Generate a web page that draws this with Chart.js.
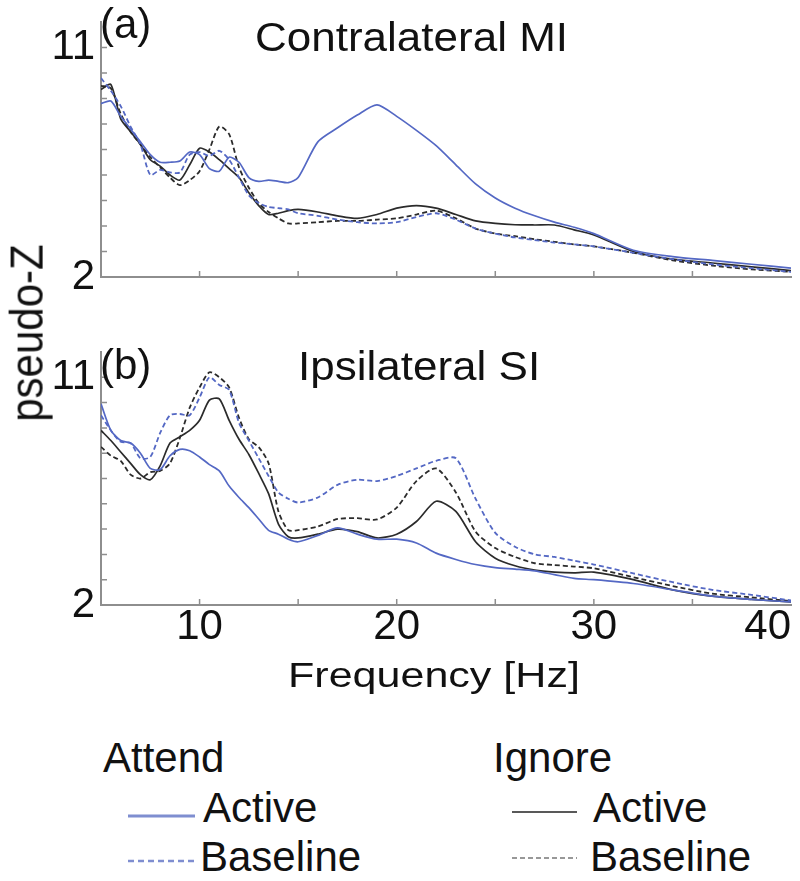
<!DOCTYPE html>
<html>
<head>
<meta charset="utf-8">
<script src="https://cdn.jsdelivr.net/npm/chart.js@4.4.1/dist/chart.umd.min.js"></script>
<style>
  body { margin: 0; background: #fff; }
  #wrap { position: relative; width: 800px; height: 881px; overflow: hidden;
          font-family: "Liberation Sans", Arial, sans-serif; color: #111; }
  canvas { position: absolute; left: 0; }
  .txt { position: absolute; white-space: nowrap; line-height: 1; transform-origin: 0 0; }
</style>
</head>
<body>
<div id="wrap">
  <canvas id="chartA" width="800" height="290" style="top:0"></canvas>
  <canvas id="chartB" width="800" height="370" style="top:290px"></canvas>

  <div class="txt" style="left:100px;top:3px;font-size:42px">(a)</div>
  <div class="txt" style="left:255px;top:17px;font-size:40px;transform:scaleX(1.1)">Contralateral MI</div>
  <div class="txt" style="left:100px;top:344px;font-size:42px">(b)</div>
  <div class="txt" style="left:298px;top:346px;font-size:40px;transform:scaleX(1.1)">Ipsilateral SI</div>
  <div class="txt" style="left:27px;top:333px;font-size:42px;transform-origin:50% 50%;transform:translate(-50%,-50%) rotate(-90deg) scaleY(1.1)">pseudo-Z</div>
  <div class="txt" style="left:288px;top:657px;font-size:35px;transform:scaleX(1.23)">Frequency [Hz]</div>

  <div class="txt" style="left:103px;top:737px;font-size:42px">Attend</div>
  <div class="txt" style="left:493px;top:737px;font-size:42px">Ignore</div>
  <div class="txt" style="left:203px;top:787px;font-size:42px">Active</div>
  <div class="txt" style="left:200px;top:836px;font-size:42px">Baseline</div>
  <div class="txt" style="left:593px;top:787px;font-size:42px">Active</div>
  <div class="txt" style="left:590px;top:836px;font-size:42px">Baseline</div>
  <svg width="800" height="881" style="position:absolute;left:0;top:0;pointer-events:none">
    <line x1="128" y1="816" x2="195" y2="816" stroke="#7f8ed0" stroke-width="3"/>
    <line x1="128" y1="861" x2="195" y2="861" stroke="#7f8ed0" stroke-width="2.5" stroke-dasharray="6,4"/>
    <line x1="512" y1="812" x2="577" y2="812" stroke="#222" stroke-width="1.5"/>
    <line x1="512" y1="858" x2="577" y2="858" stroke="#333" stroke-width="1.2" stroke-dasharray="5,3"/>
  </svg>
</div>

<script>
// frequency grid [Hz]
const freq = [5,5.5,6,6.5,7,7.5,8,8.5,9,9.5,10,10.5,11,11.5,12,12.5,13,13.5,14,14.5,15,
              16,17,18,19,20,21,22,23,24,25,26,27,28,29,30,32,34,36,38,40];

// (a) Contralateral MI
const attendActiveA = [8.8,8.9,8.3,7.8,7.3,6.8,6.5,6.5,6.55,6.9,6.8,6.25,6.15,6.7,6.5,5.9,5.75,5.8,5.75,5.7,5.9,
                       7.3,7.85,8.35,8.75,8.3,7.75,7.15,6.4,5.65,5.1,4.7,4.4,4.15,3.95,3.7,3.05,2.8,2.65,2.5,2.35];
const attendBaseA   = [9.8,9.3,8.7,7.9,7.2,6.0,6.2,6.1,6.1,6.8,6.9,6.75,6.95,6.6,5.9,5.2,4.9,4.75,4.7,4.65,4.5,
                       4.4,4.25,4.15,4.1,4.15,4.35,4.5,4.25,3.9,3.7,3.55,3.45,3.35,3.28,3.2,2.95,2.7,2.5,2.35,2.2];
const ignoreActiveA = [9.35,9.55,8.2,7.7,7.2,6.6,6.35,6.0,5.8,6.4,7.05,6.9,6.6,6.25,5.9,5.3,4.8,4.45,4.5,4.6,4.65,
                       4.55,4.4,4.3,4.45,4.7,4.8,4.7,4.45,4.2,4.1,4.05,4.04,4.04,3.85,3.65,3.0,2.7,2.55,2.4,2.25];
const ignoreBaseA   = [9.5,9.4,8.4,7.7,7.2,6.7,6.3,5.9,5.6,5.8,6.15,7.0,7.9,7.6,6.3,5.5,4.9,4.55,4.3,4.1,4.1,
                       4.15,4.2,4.2,4.25,4.3,4.45,4.6,4.3,3.9,3.7,3.6,3.48,3.38,3.28,3.2,2.95,2.65,2.45,2.3,2.2];

// (b) Ipsilateral SI
const attendActiveB = [9.95,8.9,8.5,8.4,8.0,7.4,7.35,7.9,8.15,8.1,7.85,7.55,7.3,6.7,6.25,5.85,5.4,4.95,4.8,4.6,4.5,
                       4.75,5.05,4.8,4.6,4.6,4.45,4.05,3.8,3.6,3.48,3.42,3.35,3.2,3.05,3.0,2.85,2.6,2.35,2.22,2.12];
const attendBaseB   = [9.5,8.9,8.45,8.4,7.8,7.85,8.8,9.5,9.55,9.5,10.2,11.0,10.7,10.5,9.2,8.5,7.8,7.1,6.45,6.2,6.05,
                       6.25,6.75,6.95,6.9,7.1,7.4,7.7,7.8,6.2,4.85,4.3,4.0,3.9,3.75,3.6,3.25,2.9,2.6,2.4,2.18];
const ignoreActiveB = [8.9,8.5,8.05,7.6,7.15,6.95,7.5,8.4,8.65,8.9,9.3,10.1,10.15,9.3,8.55,7.95,7.2,6.4,5.2,4.7,4.65,
                       4.8,5.0,4.9,4.65,4.8,5.3,6.1,5.7,4.5,3.85,3.55,3.38,3.3,3.27,3.3,3.0,2.6,2.35,2.22,2.12];
const ignoreBaseB   = [8.25,7.9,7.7,7.15,7.0,7.25,7.3,7.6,8.6,9.8,10.6,11.2,11.0,10.6,9.4,8.55,8.24,7.6,5.7,4.96,4.96,
                       5.1,5.4,5.43,5.38,5.85,6.9,7.4,6.45,4.9,4.25,3.9,3.65,3.58,3.52,3.45,3.1,2.75,2.45,2.3,2.15];

const xTicks = [5,10,15,20,25,30,35,40];
const xLabels = [10,20,30,40];
const yTicks = [2,3,4,5,6,7,8,9,10,11,12];
const yLabels = [2,11];

const blue = '#5468c4';
const black = '#2b2b2b';
const axisGrey = '#8e8e8e';
const font = { family: 'Liberation Sans, Arial, sans-serif', size: 42 };

function series(values, color, dashed) {
  return {
    data: freq.map((f, i) => ({ x: f, y: values[i] })),
    borderColor: color,
    borderWidth: dashed ? 1.8 : 1.7,
    borderDash: dashed ? [5, 3] : [],
    pointRadius: 0,
    fill: false,
    tension: 0.25
  };
}

// small tick marks pointing into the plot, like the original
const innerTicks = {
  id: 'innerTicks',
  afterDraw(chart) {
    const { ctx, chartArea, scales } = chart;
    ctx.save();
    ctx.strokeStyle = axisGrey;
    ctx.lineWidth = 1.5;
    ctx.beginPath();
    xTicks.slice(1, -1).forEach(v => {
      const px = scales.x.getPixelForValue(v);
      ctx.moveTo(px, chartArea.bottom);
      ctx.lineTo(px, chartArea.bottom - 6);
    });
    yTicks.slice(1, -1).forEach(v => {
      const py = scales.y.getPixelForValue(v);
      ctx.moveTo(chartArea.left, py);
      ctx.lineTo(chartArea.left + 6, py);
    });
    ctx.stroke();
    ctx.restore();
  }
};

function makeChart(id, datasets, showX, padTop, xHeight) {
  return new Chart(document.getElementById(id).getContext('2d'), {
    type: 'line',
    data: { datasets: datasets },
    options: {
      responsive: false,
      animation: false,
      devicePixelRatio: 1,
      layout: { padding: { top: padTop, right: 9, left: 0, bottom: 0 } },
      plugins: { legend: { display: false }, tooltip: { enabled: false } },
      scales: {
        x: {
          type: 'linear', min: 5, max: 40,
          afterBuildTicks: s => { s.ticks = xTicks.map(v => ({ value: v })); },
          afterFit: s => { s.height = xHeight; s.paddingLeft = 0; s.paddingRight = 0; },
          grid: { display: false, drawTicks: false },
          border: { display: true, color: axisGrey, width: 2 },
          ticks: {
            display: showX, font: font, color: '#111', padding: -3, align: 'inner', maxRotation: 0,
            autoSkip: false,
            callback: v => xLabels.includes(v) ? String(v) : ''
          }
        },
        y: {
          type: 'linear', min: 2, max: 12,
          afterBuildTicks: s => { s.ticks = yTicks.map(v => ({ value: v })); },
          afterFit: s => { s.width = 101; s.paddingTop = 0; s.paddingBottom = 0; },
          grid: { display: false, drawTicks: false },
          border: { display: true, color: axisGrey, width: 2 },
          ticks: {
            font: font, color: '#111', padding: 6, autoSkip: false,
            callback: v => yLabels.includes(v) ? String(v) : ''
          }
        }
      }
    },
    plugins: [innerTicks]
  });
}

makeChart('chartA', [
  series(attendActiveA, blue, false),
  series(attendBaseA, blue, true),
  series(ignoreActiveA, black, false),
  series(ignoreBaseA, black, true)
], false, 22, 13);

makeChart('chartB', [
  series(attendActiveB, blue, false),
  series(attendBaseB, blue, true),
  series(ignoreActiveB, black, false),
  series(ignoreBaseB, black, true)
], true, 62, 55);
</script>
</body>
</html>
